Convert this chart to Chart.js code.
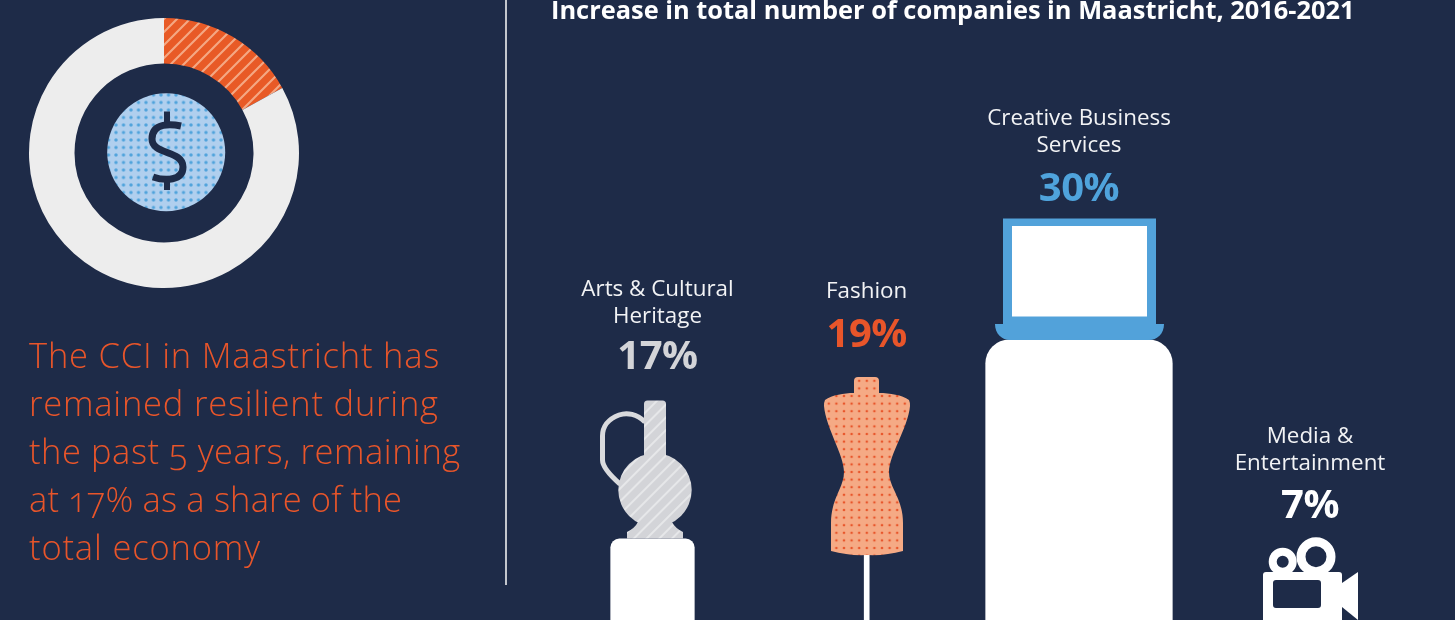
<!DOCTYPE html>
<html>
<head>
<meta charset="utf-8">
<title>Creative industries in Maastricht</title>
<script src="https://cdn.jsdelivr.net/npm/chart.js@4/dist/chart.umd.js"></script>
<style>
    html, body { margin: 0; padding: 0; background: #1e2b48; }
    #page { position: relative; width: 1455px; height: 620px; overflow: hidden; background: #1e2b48; font-family: "Open Sans", sans-serif; }
    #page canvas, #icons { position: absolute; }
    #barChart { left: 0; top: 0; }
    #donutChart { left: 19px; top: 8px; }
    #icons { left: 0; top: 0; }
    #divider { position: absolute; left: 505px; top: 0; width: 2px; height: 585px; background: #c3c6cd; }
    #title { position: absolute; left: 551px; top: -8px; font-size: 25.4px; line-height: 34px; font-weight: 700; color: #fff; white-space: nowrap; }
    #summary { position: absolute; left: 29px; top: 331px; font-size: 34.5px; line-height: 48px; font-weight: 300; color: #e8552a; white-space: nowrap; font-variant-numeric: oldstyle-nums; }
    #summary span { display: block; }
    .label { position: absolute; transform: translateX(-50%); text-align: center; white-space: nowrap; }
    .label .name { font-size: 22.4px; line-height: 27px; color: #f2f3f5; }
    .label .pct { font-size: 40px; line-height: 50px; font-weight: 700; letter-spacing: -0.5px; }
</style>
</head>
<body>
<div id="page">
    <canvas id="barChart" width="1455" height="620"></canvas>
    <canvas id="donutChart" width="290" height="290"></canvas>
    <svg id="icons" width="1455" height="620" viewBox="0 0 1455 620" xmlns="http://www.w3.org/2000/svg">
        <defs>
            <pattern id="blueDots" width="7.5" height="7.5" patternUnits="userSpaceOnUse" x="112.25" y="106.25">
                <rect width="7.5" height="7.5" fill="#b0cfee"/>
                <circle cx="3.75" cy="3.75" r="1.7" fill="#4fa3dc"/>
            </pattern>
            <pattern id="orangeDots" width="7.6" height="7.6" patternUnits="userSpaceOnUse" x="825" y="377">
                <rect width="7.6" height="7.6" fill="#f5aa85"/>
                <circle cx="3.8" cy="3.8" r="1.3" fill="#e8552a"/>
            </pattern>
            <pattern id="greyStripes" width="9" height="9" patternUnits="userSpaceOnUse" patternTransform="rotate(45)">
                <rect width="9" height="9" fill="#d3d4d8"/>
                <rect width="2" height="9" fill="#e6e7e9"/>
            </pattern>
        </defs>

        <!-- dollar coin -->
        <circle cx="166.2" cy="152.3" r="59" fill="url(#blueDots)"/>
        <path d="M181 126 C172 124 152 122 152 139 C152 155 183 150 183 167 C183 181 165 181 153 177" fill="none" stroke="#1e2b48" stroke-width="7"/>
        <path d="M167 111.5 V125 M167 180 V190" fill="none" stroke="#1e2b48" stroke-width="6"/>

        <!-- jug -->
        <path d="M645 422 C637 414 627 412 619 415 C608 419 602.5 427 602.5 436 L602.5 460 C602.5 468 612 477 620 484" fill="none" stroke="#d9dadd" stroke-width="5"/>
        <rect x="644" y="400.5" width="22" height="70" rx="3.5" fill="url(#greyStripes)"/>
        <circle cx="655" cy="490" r="36.7" fill="url(#greyStripes)"/>
        <path d="M638 522 H672 Q675 528 683 532 V538.5 H627 V532 Q635 528 638 522 Z" fill="url(#greyStripes)"/>

        <!-- mannequin -->
        <path d="M854 381 Q854 377 858 377 L875 377 Q879 377 879 381 L879 393 C890 393 902 395 909 400 Q910 402 910 406 C908 428 889 455 889 472 C889 488 903 498 903 523 L903 551 Q885 556 867 555 Q849 556 831 551 L831 523 C831 498 844 488 844 472 C844 455 826 428 824 406 Q824 402 825 400 C832 395 844 393 854 393 Z" fill="url(#orangeDots)"/>

        <!-- laptop -->
        <rect x="1003" y="218.5" width="153" height="106" fill="#52a2da"/>
        <rect x="1012" y="226" width="135" height="90.5" fill="#fff"/>
        <path d="M995 324 H1164 C1164 334 1157 340 1149 340 H1010 C1002 340 995 334 995 324 Z" fill="#52a2da"/>

        <!-- film camera -->
        <circle cx="1282.7" cy="561.7" r="10" fill="none" stroke="#fff" stroke-width="8"/>
        <circle cx="1316" cy="556.7" r="15" fill="none" stroke="#fff" stroke-width="9"/>
        <path d="M1266 572 H1339 Q1342 572 1342 575 V640 H1263 V575 Q1263 572 1266 572 Z M1276 580 Q1273 580 1273 583 V605 Q1273 608 1276 608 H1318 Q1321 608 1321 605 V583 Q1321 580 1318 580 Z" fill="#fff" fill-rule="evenodd"/>
        <path d="M1342 583 L1358 572 V620 L1342 607 Z" fill="#fff"/>
    </svg>
    <div id="divider"></div>
    <div id="title">Increase in total number of companies in Maastricht, 2016-2021</div>
    <div id="summary">
        <span style="letter-spacing:0.8px">The CCI in Maastricht has</span>
        <span style="letter-spacing:0.8px">remained resilient during</span>
        <span style="letter-spacing:0.55px">the past 5 years, remaining</span>
        <span style="letter-spacing:0.15px">at 17% as a share of the</span>
        <span style="letter-spacing:0.85px">total economy</span>
    </div>
</div>

<script>
    // --- Data
    const categories = ['Arts & Cultural Heritage', 'Fashion', 'Creative Business Services', 'Media & Entertainment'];
    const categoryLines = [['Arts & Cultural', 'Heritage'], ['Fashion'], ['Creative Business', 'Services'], ['Media &', 'Entertainment']];
    const growthValues = [17, 19, 30, 7];
    const shareLabels = ['CCI', 'Rest of economy'];
    const shareValues = [17, 83];

    // --- Layout and styles
    const slotCentres = [652.5, 866.7, 1079, 1310];
    const barWidths = [83.6, 5, 186.6, 80];
    const barRadii = [9, 0, 24, 0];
    const labelShift = [5, 0, 0, 0];
    const labelTops = [274, 276, 103, 421];
    const pctShift = [1, 4, 4, 3];
    const pctColors = ['#d3d4d8', '#e8552a', '#4fa3dc', '#ffffff'];
    const yMin = 11.7;
    const yMax = 52.2;

    // Category scale with slots that are not evenly spaced, as in the original layout
    class SlotScale extends Chart.CategoryScale {
        getPixelForValue(value) {
            const index = typeof value === 'number' ? value : this.parse(value);
            return slotCentres[index];
        }
    }
    SlotScale.id = 'slot';
    SlotScale.defaults = Chart.CategoryScale.defaults;
    Chart.register(SlotScale);

    // --- Chart 1: bars
    new Chart(document.getElementById('barChart').getContext('2d'), {
        type: 'bar',
        data: {
            labels: categories,
            datasets: categories.map(function (name, i) {
                return {
                    label: name,
                    data: growthValues.map(function (v, j) { return j === i ? v : null; }),
                    backgroundColor: '#ffffff',
                    barThickness: barWidths[i],
                    borderRadius: barRadii[i]
                };
            })
        },
        options: {
            responsive: false,
            animation: false,
            plugins: { legend: { display: false }, tooltip: { enabled: false } },
            scales: {
                x: { type: 'slot', stacked: true, display: false },
                y: { min: yMin, max: yMax, display: false }
            }
        }
    });

    // Striped fill for the highlighted slice
    function stripeFill() {
        const tile = document.createElement('canvas');
        tile.width = 13;
        tile.height = 13;
        const c = tile.getContext('2d');
        c.fillStyle = '#e85a26';
        c.fillRect(0, 0, 13, 13);
        c.strokeStyle = '#f4a884';
        c.lineWidth = 2.1;
        c.beginPath();
        c.moveTo(-3, 3); c.lineTo(3, -3);
        c.moveTo(0, 13); c.lineTo(13, 0);
        c.moveTo(10, 16); c.lineTo(16, 10);
        c.stroke();
        return c.createPattern(tile, 'repeat');
    }

    // --- Chart 2: donut
    new Chart(document.getElementById('donutChart').getContext('2d'), {
        type: 'doughnut',
        data: {
            labels: shareLabels,
            datasets: [{
                data: shareValues,
                backgroundColor: [stripeFill(), '#ededed'],
                borderWidth: 0
            }]
        },
        options: {
            responsive: false,
            animation: false,
            radius: 135,
            cutout: '66.3%',
            plugins: { legend: { display: false }, tooltip: { enabled: false } }
        }
    });

    // --- Category labels and percentages
    const page = document.getElementById('page');
    categoryLines.forEach(function (lines, i) {
        const label = document.createElement('div');
        label.className = 'label';
        label.style.left = (slotCentres[i] + labelShift[i]) + 'px';
        label.style.top = labelTops[i] + 'px';

        const name = document.createElement('div');
        name.className = 'name';
        lines.forEach(function (line) {
            const row = document.createElement('div');
            row.textContent = line;
            name.appendChild(row);
        });

        const pct = document.createElement('div');
        pct.className = 'pct';
        pct.style.color = pctColors[i];
        pct.style.marginTop = pctShift[i] + 'px';
        pct.textContent = growthValues[i] + '%';

        label.appendChild(name);
        label.appendChild(pct);
        page.appendChild(label);
    });
</script>
</body>
</html>
